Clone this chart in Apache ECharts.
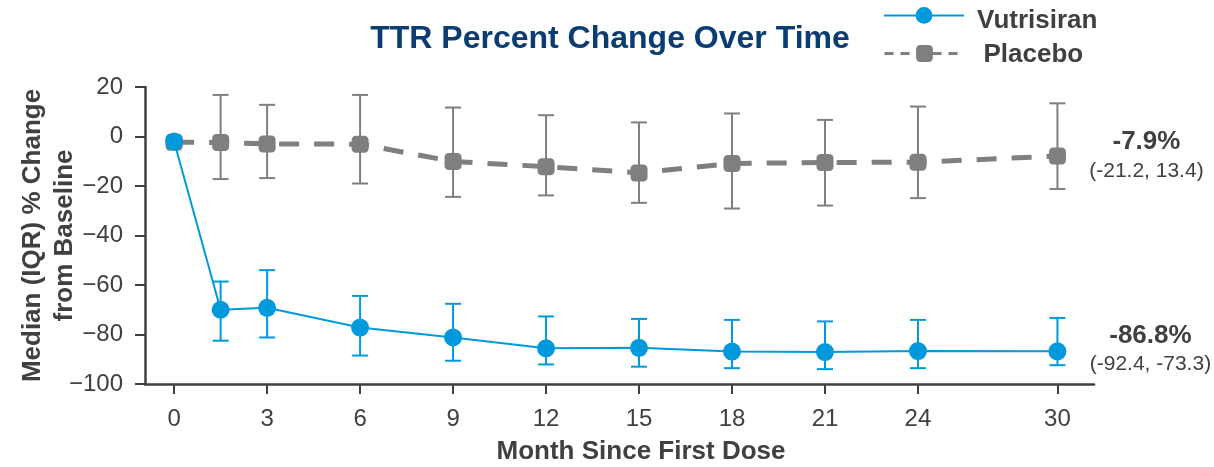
<!DOCTYPE html>
<html>
<head>
<meta charset="utf-8">
<title>TTR Percent Change Over Time</title>
<script src="https://cdn.jsdelivr.net/npm/echarts@6/dist/echarts.min.js"></script>
<style>
  html, body { margin: 0; padding: 0; background: #ffffff; }
  #chart { width: 1214px; height: 467px; }
</style>
</head>
<body>
<div id="chart"></div>
<script>
// Visit months (x) and tick labels
const months = [0, 1.5, 3, 6, 9, 12, 15, 18, 21, 24, 30];
const monthTicks = [0, 3, 6, 9, 12, 15, 18, 21, 24, 30];

// Vutrisiran: median % change with IQR (Q1 = lower, Q3 = upper)
const vutrisiranMedian = [-2.0, -70.0, -69.2, -77.2, -81.2, -85.6, -85.4, -86.9, -87.1, -86.7, -86.8];
const vutrisiranQ1 = [null, -82.5, -81.2, -88.5, -90.6, -92.1, -93.0, -93.6, -94.0, -93.6, -92.4];
const vutrisiranQ3 = [null, -58.6, -54.0, -64.4, -67.6, -72.7, -73.7, -74.1, -74.7, -74.1, -73.3];

// Placebo: median % change with IQR
const placeboMedian = [-2.3, -2.4, -3.0, -3.1, -10.1, -12.2, -14.7, -10.9, -10.5, -10.4, -7.9];
const placeboQ1 = [null, -17.2, -16.8, -19.0, -24.4, -23.8, -26.8, -29.1, -27.9, -24.9, -21.2];
const placeboQ3 = [null, 16.8, 12.8, 16.8, 11.7, 8.6, 5.7, 9.3, 6.7, 12.1, 13.4];

const BLUE = '#0099dc';
const GRAY = '#7f7f7f';
const TEXT = '#404040';
const FONT = '"Liberation Sans", Arial, Helvetica, sans-serif';

// The month axis is compressed after month 24 (no visit at 27)
function toAxis(m) { return m <= 24 ? m : 24 + (m - 24) * 0.75; }
const tickPositions = monthTicks.map(toAxis);

function lineData(med) {
  return months.map((m, i) => [toAxis(m), med[i]]);
}
function barData(q1, q3) {
  return months.map((m, i) => [toAxis(m), q1[i], q3[i]]).filter(d => d[1] !== null);
}
function endLabel(med, q1, q3) {
  const last = med.length - 1;
  return med[last] + '%\n(' + q1[last] + ', ' + q3[last] + ')';
}

function errorBarItem(color) {
  return function (params, api) {
    const x = api.value(0);
    const lo = api.coord([x, api.value(1)]);
    const hi = api.coord([x, api.value(2)]);
    const hw = 8;
    const style = { stroke: color, lineWidth: 2, fill: null };
    return {
      type: 'group',
      children: [
        { type: 'line', shape: { x1: lo[0], y1: lo[1], x2: hi[0], y2: hi[1] }, style: style },
        { type: 'line', shape: { x1: lo[0] - hw, y1: lo[1], x2: lo[0] + hw, y2: lo[1] }, style: style },
        { type: 'line', shape: { x1: hi[0] - hw, y1: hi[1], x2: hi[0] + hw, y2: hi[1] }, style: style }
      ]
    };
  };
}

function withEndLabel(data, text, offset) {
  return data.map((d, i) => {
    if (i !== data.length - 1) return d;
    return {
      value: d,
      label: {
        show: true,
        position: 'inside',
        offset: offset,
        align: 'center',
        verticalAlign: 'middle',
        formatter: function () {
          const parts = text.split('\n');
          return '{a|' + parts[0] + '}\n{b|' + parts[1] + '}';
        },
        rich: {
          a: { fontSize: 26, fontWeight: 'bold', color: TEXT, fontFamily: FONT, lineHeight: 32, align: 'center' },
          b: { fontSize: 21, color: TEXT, fontFamily: FONT, lineHeight: 26, align: 'center' }
        }
      }
    };
  });
}

const legendText = { fontSize: 26, fontWeight: 'bold', color: TEXT, fontFamily: FONT };

const chart = echarts.init(document.getElementById('chart'), null, { renderer: 'canvas' });

chart.setOption({
  animation: false,
  backgroundColor: '#ffffff',
  title: {
    text: 'TTR Percent Change Over Time',
    left: 605,
    top: 18,
    textAlign: 'center',
    textStyle: { fontSize: 32, fontWeight: 'bold', color: '#0b3c72', fontFamily: FONT }
  },
  legend: [
    {
      data: ['Vutrisiran'],
      left: 878,
      top: 2,
      itemWidth: 80,
      itemHeight: 21,
      formatter: '{t|{name}}',
      textStyle: {
        padding: [0, 0, 0, 8],
        rich: { t: Object.assign({ padding: [10, 0, 0, 0] }, legendText) }
      }
    },
    {
      data: ['Placebo'],
      left: 878,
      top: 37,
      itemWidth: 80,
      itemHeight: 21,
      lineStyle: { width: 3, type: [9, 7] },
      formatter: '{t|{name}}',
      textStyle: {
        padding: [0, 0, 0, 14],
        rich: { t: Object.assign({ padding: [3, 0, 0, 0] }, legendText) }
      }
    }
  ],
  grid: { left: 145, right: 120, top: 87, bottom: 83, containLabel: false, outerBoundsMode: 'none' },
  xAxis: {
    type: 'value',
    min: -0.94,
    max: 29.68,
    name: 'Month Since First Dose',
    nameLocation: 'middle',
    nameGap: 55,
    nameMoveOverlap: false,
    nameTextStyle: { fontSize: 26, fontWeight: 'bold', color: TEXT, fontFamily: FONT, padding: [0, 0, 0, 43] },
    splitLine: { show: false },
    axisLine: { show: true, onZero: false, lineStyle: { color: TEXT, width: 2.5 } },
    axisTick: { show: true, length: 10, customValues: tickPositions, lineStyle: { color: TEXT, width: 2 } },
    axisLabel: {
      customValues: tickPositions,
      margin: 23,
      fontSize: 24,
      color: TEXT,
      fontFamily: FONT,
      formatter: function (v) {
        const idx = tickPositions.findIndex(p => Math.abs(p - v) < 1e-6);
        return idx >= 0 ? String(monthTicks[idx]) : '';
      }
    }
  },
  yAxis: {
    type: 'value',
    min: -100,
    max: 20,
    interval: 20,
    name: 'Median (IQR) % Change\nfrom Baseline',
    nameLocation: 'middle',
    nameGap: 64,
    nameMoveOverlap: false,
    nameTextStyle: { fontSize: 26, fontWeight: 'bold', color: TEXT, fontFamily: FONT, lineHeight: 32, align: 'center' },
    splitLine: { show: false },
    axisLine: { show: true, onZero: false, lineStyle: { color: TEXT, width: 2.5 } },
    axisTick: { show: true, length: 10, lineStyle: { color: TEXT, width: 2 } },
    axisLabel: {
      margin: 22,
      fontSize: 24,
      color: TEXT,
      fontFamily: FONT,
      formatter: function (v) { return v < 0 ? '\u2212' + Math.abs(v) : String(v); }
    }
  },
  series: [
    {
      name: 'Placebo IQR',
      type: 'custom',
      renderItem: errorBarItem(GRAY),
      data: barData(placeboQ1, placeboQ3),
      z: 1,
      silent: true
    },
    {
      name: 'Vutrisiran IQR',
      type: 'custom',
      renderItem: errorBarItem(BLUE),
      data: barData(vutrisiranQ1, vutrisiranQ3),
      z: 1,
      silent: true
    },
    {
      name: 'Placebo',
      type: 'line',
      data: withEndLabel(lineData(placeboMedian), endLabel(placeboMedian, placeboQ1, placeboQ3), [89, -1]),
      symbol: 'roundRect',
      symbolSize: 17,
      itemStyle: { color: GRAY },
      lineStyle: { color: GRAY, width: 5, type: [20, 15] },
      z: 3
    },
    {
      name: 'Vutrisiran',
      type: 'line',
      data: withEndLabel(lineData(vutrisiranMedian), endLabel(vutrisiranMedian, vutrisiranQ1, vutrisiranQ3), [93, -3]),
      symbol: 'circle',
      symbolSize: 18,
      itemStyle: { color: BLUE },
      lineStyle: { color: BLUE, width: 2 },
      z: 4
    }
  ]
});
</script>
</body>
</html>
